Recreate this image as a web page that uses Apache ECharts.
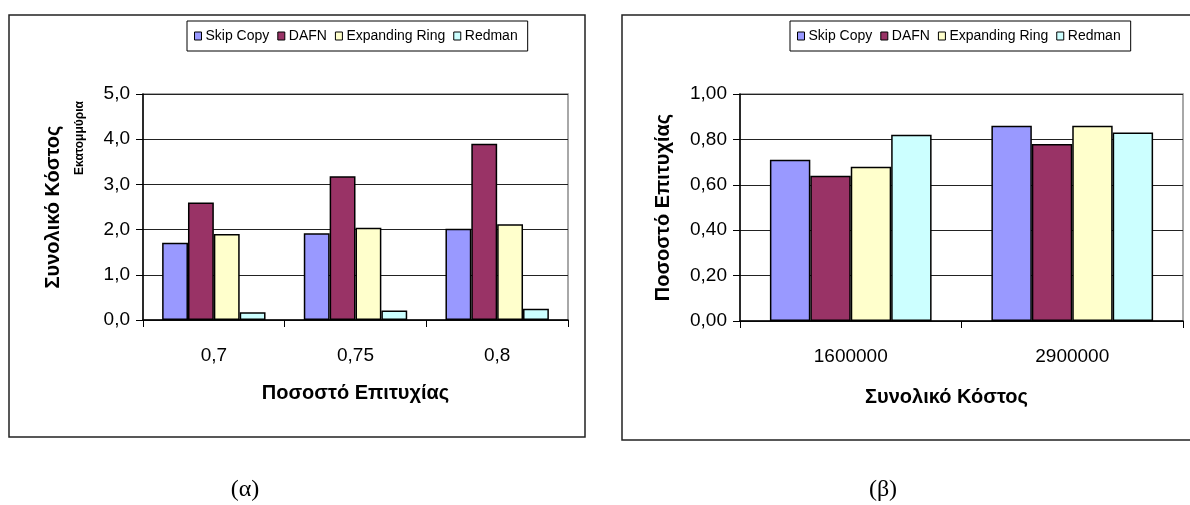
<!DOCTYPE html>
<html>
<head>
<meta charset="utf-8">
<script src="https://cdn.jsdelivr.net/npm/echarts@6/dist/echarts.min.js"></script>
<style>
  html, body { margin: 0; padding: 0; background: #fff; }
  #chart { width: 1190px; height: 505px; }
</style>
</head>
<body>
<div id="chart"></div>
<script>
// (α) total cost (millions) versus success rate
const costCategories = ['0,7', '0,75', '0,8'];
const costSkipCopy = [1.71, 1.92, 2.02];
const costDAFN = [2.60, 3.18, 3.90];
const costExpandingRing = [1.90, 2.04, 2.12];
const costRedman = [0.17, 0.21, 0.25];
const costTickLabels = ['0,0', '1,0', '2,0', '3,0', '4,0', '5,0'];

// (β) success rate versus total cost
const rateCategories = ['1600000', '2900000'];
const rateSkipCopy = [0.71, 0.86];
const rateDAFN = [0.64, 0.78];
const rateExpandingRing = [0.68, 0.86];
const rateRedman = [0.82, 0.83];
const rateTickLabels = ['0,00', '0,20', '0,40', '0,60', '0,80', '1,00'];

const seriesNames = ['Skip Copy', 'DAFN', 'Expanding Ring', 'Redman'];
const seriesColors = ['#9999FF', '#993366', '#FFFFCC', '#CCFFFF'];

const FONT = '"Liberation Sans", Arial, sans-serif';

function legendAt(left) {
  return {
    left: left, top: 21,
    orient: 'horizontal',
    data: seriesNames,
    icon: 'rect',
    itemWidth: 7, itemHeight: 8,
    itemGap: 8,
    padding: [8, 10, 8, 7],
    borderColor: '#000', borderWidth: 1,
    backgroundColor: '#fff',
    selectedMode: false,
    itemStyle: { borderColor: '#000', borderWidth: 1 },
    textStyle: { fontFamily: FONT, fontSize: 14, color: '#000', padding: [0, 0, 0, -1] }
  };
}

function yAxisDef(gridIndex, max, interval, labels, name, nameGap) {
  return {
    type: 'value', gridIndex: gridIndex,
    min: 0, max: max, interval: interval,
    name: name, nameLocation: 'middle', nameGap: nameGap,
    nameTextStyle: { fontFamily: FONT, fontSize: 20, fontWeight: 'bold', color: '#000' },
    axisLine: { show: true, lineStyle: { color: '#000', width: 1.5 } },
    axisTick: { show: true, length: 7, lineStyle: { color: '#000', width: 1 } },
    axisLabel: {
      fontFamily: FONT, fontSize: 19, color: '#000', margin: 13,
      formatter: v => labels[Math.round(v / interval)]
    },
    splitLine: { show: true, lineStyle: { color: '#222', width: 1 } }
  };
}

function xAxisDef(gridIndex, cats, name, nameGap, namePad) {
  return {
    type: 'category', gridIndex: gridIndex, data: cats,
    name: name, nameLocation: 'middle', nameGap: nameGap,
    nameTextStyle: { fontFamily: FONT, fontSize: 20, fontWeight: 'bold', color: '#000', padding: namePad },
    axisLine: { show: true, lineStyle: { color: '#000', width: 1.5 } },
    axisTick: { show: true, length: 7, lineStyle: { color: '#000', width: 1 } },
    axisLabel: { fontFamily: FONT, fontSize: 19, color: '#000', margin: 26 },
    splitLine: { show: false }
  };
}

function barSeries(idx, axisIdx, data) {
  return {
    type: 'bar', name: seriesNames[idx],
    xAxisIndex: axisIdx, yAxisIndex: axisIdx,
    data: data,
    barGap: '0%', barCategoryGap: '27%',
    itemStyle: { color: seriesColors[idx], borderColor: '#000', borderWidth: 1.5 },
    emphasis: { disabled: true },
    animation: false
  };
}

const chart = echarts.init(document.getElementById('chart'), null, { renderer: 'canvas' });

chart.setOption({
  backgroundColor: '#fff',
  animation: false,
  legend: [legendAt(187), legendAt(790)],
  grid: [
    { left: 143, top: 94, width: 425, height: 226, show: true, borderColor: '#8c8c8c', borderWidth: 1.5, backgroundColor: 'transparent' },
    { left: 740, top: 94, width: 443, height: 227, show: true, borderColor: '#8c8c8c', borderWidth: 1.5, backgroundColor: 'transparent' }
  ],
  xAxis: [
    xAxisDef(0, costCategories, 'Ποσοστό Επιτυχίας', 63, [0, 0, 0, 0]),
    xAxisDef(1, rateCategories, 'Συνολικό Κόστος', 66, [0, 30, 0, 0])
  ],
  yAxis: [
    yAxisDef(0, 5, 1, costTickLabels, 'Συνολικό Κόστος', 80),
    yAxisDef(1, 1, 0.2, rateTickLabels, 'Ποσοστό Επιτυχίας', 67)
  ],
  series: [
    barSeries(0, 0, costSkipCopy),
    barSeries(1, 0, costDAFN),
    barSeries(2, 0, costExpandingRing),
    barSeries(3, 0, costRedman),
    barSeries(0, 1, rateSkipCopy),
    barSeries(1, 1, rateDAFN),
    barSeries(2, 1, rateExpandingRing),
    barSeries(3, 1, rateRedman)
  ],
  graphic: [
    // panel frames
    { type: 'rect', z: -10, shape: { x: 9, y: 15, width: 576, height: 422 },
      style: { fill: 'none', stroke: '#222', lineWidth: 1.5 } },
    { type: 'rect', z: -10, shape: { x: 622, y: 15, width: 620, height: 425 },
      style: { fill: 'none', stroke: '#222', lineWidth: 1.5 } },
    // units note beside the cost axis
    { type: 'text', x: 80, y: 138, rotation: Math.PI / 2,
      style: { text: 'Εκατομμύρια', font: 'bold 12px ' + FONT, fill: '#000',
               align: 'center', verticalAlign: 'middle' } },
    // sub-figure captions
    { type: 'text', x: 245, y: 490,
      style: { text: '(α)', font: '24px "Liberation Serif", "Times New Roman", serif', fill: '#000',
               align: 'center', verticalAlign: 'middle' } },
    { type: 'text', x: 883, y: 490,
      style: { text: '(β)', font: '24px "Liberation Serif", "Times New Roman", serif', fill: '#000',
               align: 'center', verticalAlign: 'middle' } }
  ]
});
</script>
</body>
</html>
